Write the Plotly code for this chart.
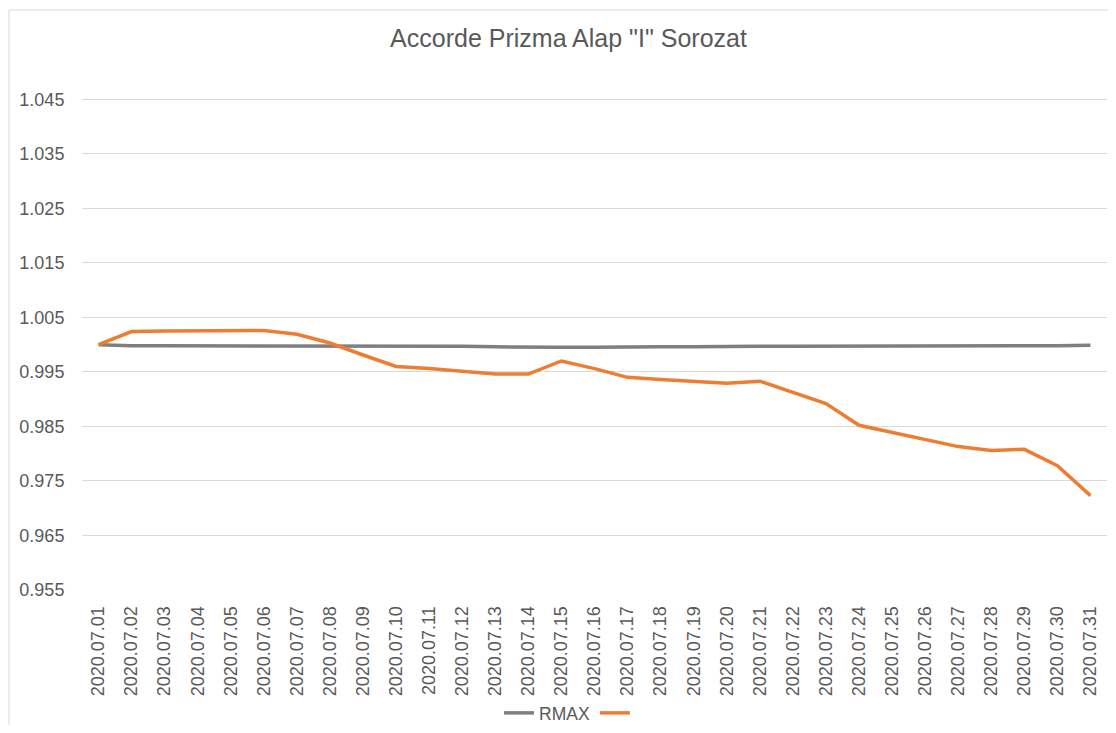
import plotly.graph_objects as go

dates = ["2020.07.%02d" % d for d in range(1, 32)]

rmax = [1.0000, 0.9998, 0.9998, 0.9998, 0.9998, 0.9998, 0.9998, 0.9998, 0.9998, 0.9998,
        0.9998, 0.9997, 0.9996, 0.9995, 0.9995, 0.9995, 0.9996, 0.9996, 0.9996, 0.9997,
        0.9997, 0.9997, 0.9997, 0.9998, 0.9998, 0.9998, 0.9998, 0.9997, 0.9998, 0.9998,
        0.9999]

other = [1.0000, 1.0024, 1.0025, 1.0025, 1.0026, 1.0026, 1.0019, 1.0003, 0.9981, 0.9960,
         0.9956, 0.9951, 0.9946, 0.9946, 0.9970, 0.9956, 0.9940, 0.9936, 0.9933, 0.9929,
         0.9933, 0.9912, 0.9892, 0.9852, 0.9839, 0.9826, 0.9813, 0.9806, 0.9808, 0.9778,
         0.9723]

y_ticks = [0.955, 0.965, 0.975, 0.985, 0.995, 1.005, 1.015, 1.025, 1.035, 1.045]

FONT = "Liberation Sans, Arial, Helvetica, sans-serif"
TXT = "#595959"

# page has an 8px body margin; work in figure coordinates = page - 8
OFF = 8
W, H = 1100, 717
ml = 82 - OFF
mt = 72 - OFF
plot_right = 1107 - OFF
plot_bottom = 590 - OFF
mr = W - plot_right
mb = H - plot_bottom
pw, ph = W - ml - mr, H - mt - mb


def px_x(p):  # page pixel -> paper x
    return (p - OFF - ml) / pw


def px_y(p):  # page pixel -> paper y
    return (H - mb - (p - OFF)) / ph


fig = go.Figure()
fig.add_trace(go.Scatter(x=dates, y=rmax, mode="lines", name="RMAX",
                         line=dict(color="#7f7f7f", width=3.5)))
fig.add_trace(go.Scatter(x=dates, y=other, mode="lines", name=" ",
                         line=dict(color="#ed7d31", width=3.5)))

fig.update_layout(
    width=W, height=H,
    margin=dict(l=ml, r=mr, t=mt, b=mb, autoexpand=False),
    paper_bgcolor="white", plot_bgcolor="white",
    font=dict(family=FONT, color=TXT, size=18),
    title=dict(text='Accorde Prizma Alap "I" Sorozat', font=dict(size=25, color=TXT),
               x=px_x(568.5), xref="paper", xanchor="center",
               y=1 - (38 - OFF) / H, yref="container", yanchor="middle"),
    xaxis=dict(type="category", tickangle=-90, showgrid=False, zeroline=False,
               showline=False, ticks="outside", ticklen=8, tickcolor="rgba(0,0,0,0)",
               tickfont=dict(size=18, color=TXT), range=[-0.5, 30.5]),
    yaxis=dict(range=[0.955, 1.05], tickvals=y_ticks, ticktext=["%.3f" % v for v in y_ticks],
               showgrid=True, gridcolor="#d9d9d9", gridwidth=1, zeroline=False,
               showline=False, ticks="outside", ticklen=13, tickcolor="rgba(0,0,0,0)",
               tickfont=dict(size=18, color=TXT)),
    showlegend=True,
    legend=dict(orientation="h", x=px_x(572), xanchor="center", y=px_y(713), yanchor="middle",
                font=dict(size=17.5, color=TXT), bgcolor="rgba(0,0,0,0)", itemwidth=30,
                tracegroupgap=0),
    shapes=[dict(type="rect", xref="paper", yref="paper",
                 x0=px_x(9), x1=px_x(1130), y0=px_y(745), y1=px_y(10),
                 line=dict(color="#d9d9d9", width=1), fillcolor="rgba(0,0,0,0)", layer="below")],
)

fig.write_html("out.html")
